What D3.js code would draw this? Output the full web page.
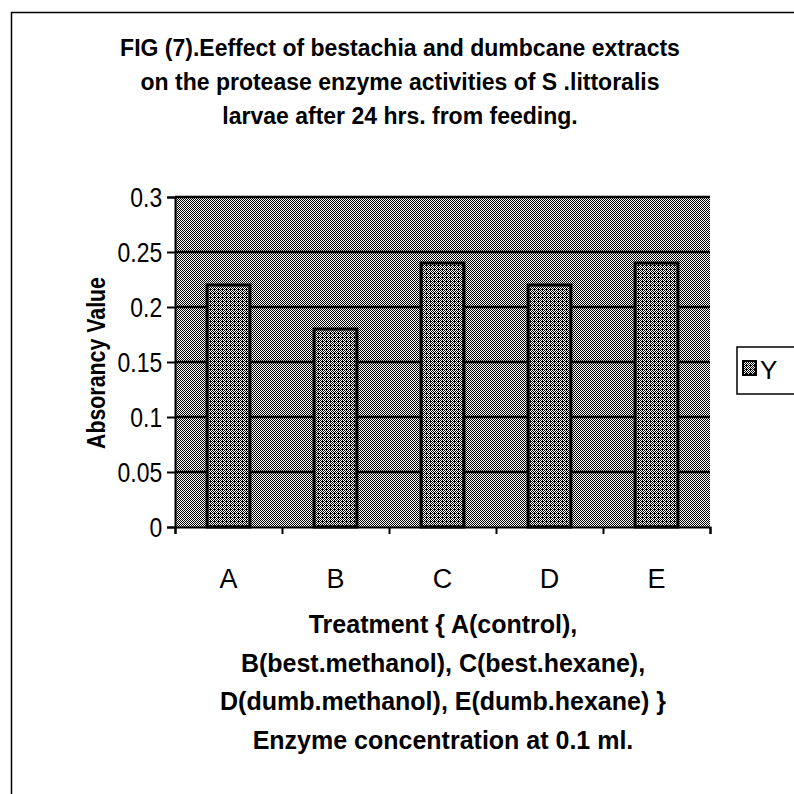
<!DOCTYPE html>
<html>
<head>
<meta charset="utf-8">
<script src="https://d3js.org/d3.v7.min.js"></script>
<style>
body { margin: 0; background: #fff; }
text { font-family: "Liberation Sans", Arial, sans-serif; fill: #000; }
</style>
</head>
<body>
<svg id="chart" width="794" height="794"></svg>
<script>
// data
var categories = ["A", "B", "C", "D", "E"];
var values = [0.22, 0.18, 0.24, 0.22, 0.24];
var yTicks = [0, 0.05, 0.1, 0.15, 0.2, 0.25, 0.3];
var seriesName = "Y";
var titleLines = [
  "FIG (7).Eeffect of bestachia and dumbcane extracts",
  "on the protease enzyme activities of S .littoralis",
  "larvae after 24 hrs. from feeding."
];
var xTitleLines = [
  "Treatment { A(control),",
  "B(best.methanol), C(best.hexane),",
  "D(dumb.methanol), E(dumb.hexane) }",
  "Enzyme concentration  at 0.1 ml."
];
var yTitle = "Absorancy Value";

var svg = d3.select("#chart");

// dither-like textures
var defs = svg.append("defs");
var bg = defs.append("pattern").attr("id", "bgDots")
  .attr("patternUnits", "userSpaceOnUse").attr("width", 2).attr("height", 2);
bg.append("rect").attr("width", 2).attr("height", 2).attr("fill", "#fff");
bg.append("rect").attr("width", 1).attr("height", 1).attr("fill", "#000");
bg.append("rect").attr("x", 1).attr("y", 1).attr("width", 1).attr("height", 1).attr("fill", "#000");

var barPat = defs.append("pattern").attr("id", "barDots")
  .attr("patternUnits", "userSpaceOnUse").attr("width", 4).attr("height", 4);
barPat.append("rect").attr("width", 4).attr("height", 4).attr("fill", "#000");
[[1,0],[3,0],[0,1],[3,2],[1,2],[2,3],[0,3]].forEach(function(p) {
  barPat.append("rect").attr("x", p[0]).attr("y", p[1]).attr("width", 1).attr("height", 1).attr("fill", "#fff");
});

// outer frame (runs off the page right/bottom)
svg.append("path")
  .attr("d", "M11.5,800 V12.5 H800")
  .attr("fill", "none").attr("stroke", "#000").attr("stroke-width", 1.5);

// title
svg.append("text")
  .attr("text-anchor", "middle")
  .style("font-weight", "bold").style("font-size", "23px")
  .selectAll("tspan").data(titleLines).enter().append("tspan")
  .attr("x", 400).attr("y", function (d, i) { return 56 + i * 34; })
  .text(function (d) { return d; });

var pLeft = 175, pRight = 710, pTop = 197, pBottom = 527;

var x = d3.scaleBand().domain(categories).range([pLeft, pRight]).paddingInner(0.6).paddingOuter(0.3);
var xEdge = d3.scaleLinear().domain([0, categories.length]).range([pLeft, pRight]);
var y = d3.scaleLinear().domain([0, 0.3]).range([pBottom, pTop]);

// plot area
svg.append("rect")
  .attr("x", pLeft).attr("y", pTop).attr("width", pRight - pLeft).attr("height", pBottom - pTop)
  .attr("fill", "url(#bgDots)");

// gridlines
svg.append("g").selectAll("line").data(yTicks.filter(function (d) { return d > 0; }))
  .enter().append("line")
  .attr("x1", pLeft).attr("x2", pRight)
  .attr("y1", function (d) { return y(d); }).attr("y2", function (d) { return y(d); })
  .attr("stroke", "#000").attr("stroke-width", 2.5);

// bars
svg.append("g").selectAll("rect").data(values).enter().append("rect")
  .attr("x", function (d, i) { return x(categories[i]); })
  .attr("y", function (d) { return y(d); })
  .attr("width", x.bandwidth())
  .attr("height", function (d) { return pBottom - y(d); })
  .attr("fill", "url(#barDots)")
  .attr("stroke", "#000").attr("stroke-width", 3);

// y axis (labels are tall and narrow in the scan)
var yAxis = svg.append("g")
  .attr("transform", "translate(" + pLeft + ",0)")
  .call(d3.axisLeft(y).tickValues(yTicks).tickSize(8).tickPadding(7)
    .tickFormat(function (d) { return String(+d.toFixed(2)); }));
yAxis.selectAll("text").style("font-size", "27px").attr("dy", "0.36em")
  .attr("transform", "scale(0.85,1)");
yAxis.selectAll("line, path").attr("stroke", "#000").attr("stroke-width", 2);

// x axis
var xAxis = svg.append("g")
  .attr("transform", "translate(0," + pBottom + ")")
  .call(d3.axisBottom(xEdge).ticks(5).tickSize(7).tickFormat(""));
xAxis.selectAll("line, path").attr("stroke", "#000").attr("stroke-width", 2);
svg.append("g").selectAll("text").data(categories).enter().append("text")
  .attr("x", function (d) { return x(d) + x.bandwidth() / 2; })
  .attr("y", 588).attr("text-anchor", "middle")
  .style("font-size", "27px")
  .text(function (d) { return d; });

// x title
svg.append("text")
  .attr("text-anchor", "middle")
  .style("font-weight", "bold").style("font-size", "25px")
  .selectAll("tspan").data(xTitleLines).enter().append("tspan")
  .attr("x", 443).attr("y", function (d, i) { return 633 + i * 38.5; })
  .text(function (d) { return d; });

// y title
svg.append("text")
  .attr("transform", "translate(105,363) rotate(-90)")
  .attr("text-anchor", "middle")
  .attr("textLength", 172).attr("lengthAdjust", "spacingAndGlyphs")
  .style("font-weight", "bold").style("font-size", "25px")
  .text(yTitle);

// legend
var lg = svg.append("g");
lg.append("rect").attr("x", 737).attr("y", 347).attr("width", 70).attr("height", 47)
  .attr("fill", "#fff").attr("stroke", "#000").attr("stroke-width", 1.5);
lg.append("rect").attr("x", 743).attr("y", 361).attr("width", 13).attr("height", 14)
  .attr("fill", "url(#barDots)").attr("stroke", "#000").attr("stroke-width", 2);
lg.append("text").attr("x", 760).attr("y", 379).style("font-size", "26px").text(seriesName);
</script>
</body>
</html>
